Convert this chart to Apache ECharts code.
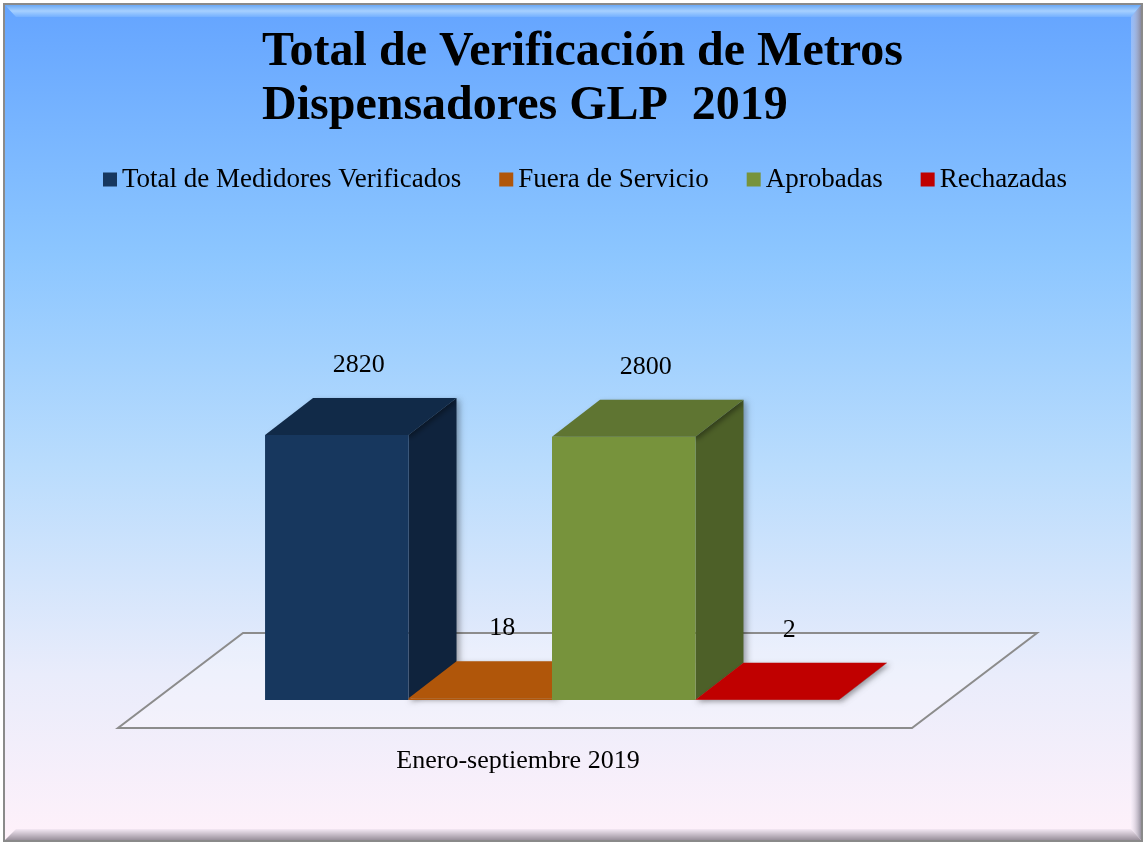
<!DOCTYPE html>
<html>
<head>
<meta charset="utf-8">
<script src="https://cdn.jsdelivr.net/npm/echarts@6/dist/echarts.min.js"></script>
<style>
  html, body { margin: 0; padding: 0; background: #fff; }
  #chart { width: 1146px; height: 845px; }
</style>
</head>
<body>
<div id="chart"></div>
<script>
// data
const categories = ['Enero-septiembre 2019'];
const seriesNames = ['Total de Medidores Verificados', 'Fuera de Servicio', 'Aprobadas', 'Rechazadas'];
const values = [2820, 18, 2800, 2];

const frontColors = ['#17375e', '#b0560a', '#77933c', '#c00000'];
const topColors = ['#112a48', '#b0560a', '#5f7532', '#c00000'];
const sideColors = ['#0f233d', '#8a4308', '#4d6028', '#9a0000'];

const serif = '"Liberation Serif", "Times New Roman", serif';
const DX = 48, DY = 37; // depth of the 3d bars

const chart = echarts.init(document.getElementById('chart'), null, { renderer: 'canvas' });

const barRender = (idx) => (params, api) => {
    let base = api.coord([api.value(0), 0]);
    let top = api.coord([api.value(0), api.value(1)]);
    let band = api.size([1, 0])[0];
    let w = band * 0.1807;
    let x0 = base[0] + (idx - 2) * w;
    let x1 = x0 + w;
    let y0 = base[1], y1 = top[1];
    return {
        type: 'group',
        children: [
            {
                type: 'polygon',
                shape: { points: [[x1, y1], [x1 + DX, y1 - DY], [x1 + DX, y0 - DY], [x1, y0]] },
                style: { fill: sideColors[idx], shadowBlur: 6, shadowOffsetX: 3, shadowOffsetY: 2, shadowColor: 'rgba(0,0,0,0.35)' }
            },
            {
                type: 'polygon',
                shape: { points: [[x0, y1], [x1, y1], [x1 + DX, y1 - DY], [x0 + DX, y1 - DY]] },
                style: { fill: topColors[idx], shadowBlur: 5, shadowOffsetX: 3, shadowOffsetY: 2, shadowColor: 'rgba(0,0,0,0.35)' }
            },
            {
                type: 'rect',
                shape: { x: x0, y: y1, width: w, height: y0 - y1 },
                style: { fill: frontColors[idx] }
            },
            {
                type: 'text',
                style: {
                    text: String(api.value(1)),
                    x: x0 + w / 2 + DX / 2 - 2,
                    y: y1 - DY - 33,
                    align: 'center',
                    verticalAlign: 'middle',
                    fontSize: 26,
                    fontFamily: serif,
                    fill: '#000'
                }
            }
        ]
    };
};

// the floor under the bars
const floorRender = (params, api) => {
    let base = api.coord([api.value(0), 0]);
    let band = api.size([1, 0])[0];
    let l = base[0] - band / 2, r = base[0] + band / 2, y = base[1];
    return {
        type: 'polygon',
        shape: { points: [[l - 37, y + 28], [r - 37, y + 28], [r + 88, y - 67], [l + 88, y - 67]] },
        style: { fill: 'rgba(255,255,255,0.25)', stroke: '#8c8c8c', lineWidth: 2 }
    };
};

let series = [{
    type: 'custom',
    renderItem: floorRender,
    data: [[0, 0]],
    silent: true,
    z: 1
}];
seriesNames.forEach((name, i) => {
    series.push({
        name: name,
        type: 'custom',
        renderItem: barRender(i),
        itemStyle: { color: frontColors[i] },
        data: [[0, values[i]]],
        z: 2
    });
});

const bgFill = new echarts.graphic.LinearGradient(0, 0, 0, 1, [
    { offset: 0, color: '#64a4ff' },
    { offset: 0.3, color: '#8cc6ff' },
    { offset: 0.55, color: '#b9dcfd' },
    { offset: 0.8, color: '#e9ecfb' },
    { offset: 1, color: '#fff1fa' }
]);

let option = {
    animation: false,
    backgroundColor: '#ffffff',
    graphic: [
        {
            type: 'rect', z: -10, silent: true,
            shape: { x: 4, y: 4, width: 1138, height: 837 },
            style: { fill: bgFill, stroke: '#8a8a8a', lineWidth: 2 }
        },
        {
            type: 'polygon', z: -9, silent: true,
            shape: { points: [[5, 5], [1141, 5], [1131, 17], [16, 17]] },
            style: {
                fill: new echarts.graphic.LinearGradient(0, 0, 0, 1, [
                    { offset: 0, color: '#6aa8f5' },
                    { offset: 0.5, color: '#a6d0ff' },
                    { offset: 1, color: '#74b0ff' }
                ])
            }
        },
        {
            type: 'polygon', z: -9, silent: true,
            shape: { points: [[5, 840], [1141, 840], [1131, 829], [16, 829]] },
            style: {
                fill: new echarts.graphic.LinearGradient(0, 0, 0, 1, [
                    { offset: 0, color: '#f4e8f4' },
                    { offset: 1, color: '#9a909c' }
                ])
            }
        },
        {
            type: 'polygon', z: -9, silent: true,
            shape: { points: [[1141, 5], [1141, 840], [1131, 829], [1131, 17]] },
            style: {
                fill: new echarts.graphic.LinearGradient(0, 0, 1, 0, [
                    { offset: 0, color: 'rgba(240,232,245,0.3)' },
                    { offset: 1, color: 'rgba(140,135,150,0.9)' }
                ])
            }
        }
    ],
    title: {
        text: 'Total de Verificación de Metros\nDispensadores GLP  2019',
        left: 262,
        top: 26,
        padding: 0,
        textStyle: {
            fontFamily: serif,
            fontSize: 48,
            fontWeight: 'bold',
            lineHeight: 54,
            color: '#000'
        }
    },
    legend: {
        data: seriesNames,
        left: 103,
        top: 166,
        padding: 0,
        icon: 'rect',
        itemWidth: 14,
        itemHeight: 14,
        itemGap: 38,
        textStyle: { fontFamily: serif, fontSize: 27, color: '#000' }
    },
    grid: { left: 155, right: 197, top: 418, bottom: 145 },
    xAxis: {
        type: 'category',
        data: categories,
        axisLine: { show: false },
        axisTick: { show: false },
        axisLabel: {
            margin: 48,
            fontFamily: serif,
            fontSize: 26,
            color: '#000',
            padding: [0, 68, 0, 0]
        }
    },
    yAxis: { type: 'value', min: 0, max: 3000, show: false },
    series: series
};

chart.setOption(option);
</script>
</body>
</html>
